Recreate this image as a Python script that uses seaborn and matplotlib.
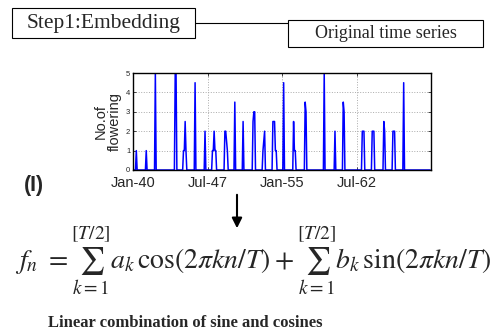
import numpy as np
import pandas as pd
import matplotlib
matplotlib.use("Agg")
import matplotlib.pyplot as plt
from matplotlib.patches import Rectangle
import seaborn as sns

# ---- data (monthly, Jan-1940 .. Dec-1969), months with flowering ----
n_months = 360
spike_months = [4, 16, 27, 51, 52, 61, 62, 63, 64, 75, 87, 96, 97, 98, 99, 100,
                111, 112, 113, 114, 123, 133, 145, 146, 147, 157, 158, 159,
                169, 170, 171, 172, 173, 182, 194, 195, 196, 208, 209, 231,
                244, 254, 255, 277, 278, 279, 289, 290, 291, 303, 304,
                314, 315, 316, 327]
spike_values = [1, 1, 5, 5, 5, 1, 1, 2.5, 1, 4.5, 2, 1, 1, 2, 1, 1,
                2, 2, 1.5, 1, 3.5, 2.5, 2.5, 3, 3, 1, 1.5, 2,
                2.5, 2.5, 2.5, 1, 1, 4.5, 2.5, 1, 1, 3.5, 3, 5,
                2, 3.5, 3, 2, 2, 2, 2, 2, 2, 2.5, 2,
                2, 2, 2, 4.5]
tick_months = [0, 90, 180, 270]
tick_labels = ["Jan-40", "Jul-47", "Jan-55", "Jul-62"]
y_ticks = [0, 1, 2, 3, 4, 5]

flowering = np.zeros(n_months)
flowering[spike_months] = spike_values
df = pd.DataFrame({"month": np.arange(n_months), "flowering": flowering})

sns.set_style("white")
plt.rcParams["font.family"] = ["Liberation Sans", "DejaVu Sans"]
plt.rcParams["mathtext.fontset"] = "stix"

W, H = 494, 336
fig = plt.figure(figsize=(W / 100, H / 100), dpi=100)

def fx(px):
    return px / W

def fy(py):
    return 1 - py / H

ax = fig.add_axes([fx(133), fy(170), fx(431) - fx(133), fy(73) - fy(170)])
sns.lineplot(data=df, x="month", y="flowering", ax=ax, color="#0000ff", lw=1.1)
ax.set_xlim(0, n_months)
ax.set_ylim(0, 5)
ax.set_xticks(tick_months)
ax.set_xticklabels(tick_labels, fontsize=10.5)
ax.set_yticks(y_ticks)
ax.tick_params(axis="y", labelsize=5.5, pad=2)
ax.tick_params(axis="x", pad=4)
ax.tick_params(direction="in", length=2.5, width=0.6, top=True, right=True, bottom=True, left=True)
ax.grid(True, linestyle=":", color="#aaaaaa", lw=0.7)
for s in ax.spines.values():
    s.set_color("black")
    s.set_linewidth(1.0)
ax.set_xlabel("")
ax.set_ylabel("No.of\nflowering", fontsize=10.5, labelpad=3, linespacing=1.0)

serif = ["Liberation Serif", "DejaVu Serif"]

# boxes and connector
fig.add_artist(Rectangle((fx(12), fy(38)), fx(195) - fx(12), fy(8) - fy(38),
                         transform=fig.transFigure, fill=False, ec="black", lw=0.8))
fig.text(fx(103.5), fy(23.5), "Step1:Embedding", family=serif, fontsize=15.5,
         ha="center", va="center")
fig.add_artist(plt.Line2D([fx(195), fx(288)], [fy(23), fy(23)],
                          transform=fig.transFigure, color="black", lw=0.8))
fig.add_artist(Rectangle((fx(288), fy(47)), fx(483) - fx(288), fy(20) - fy(47),
                         transform=fig.transFigure, fill=False, ec="black", lw=0.8))
fig.text(fx(385.5), fy(34), "Original time series", family=serif, fontsize=13,
         ha="center", va="center")

# label (I)
fig.text(fx(34), fy(185), "(I)", fontsize=15.5, fontweight="bold", ha="center", va="center")

# arrow
fig.add_artist(matplotlib.patches.FancyArrowPatch(
    (fx(237), fy(192)), (fx(237), fy(231)), transform=fig.transFigure,
    arrowstyle="-|>,head_length=0.5,head_width=0.25", mutation_scale=12,
    color="black", lw=1.5))

# formula
formula = (r"$f_n\ = \sum_{k=1}^{[T/2]} a_k\,\cos(2\pi kn/T) + "
           r"\sum_{k=1}^{[T/2]} b_k\,\sin(2\pi kn/T)$")
fig.text(fx(253), fy(261), formula, fontsize=20, ha="center", va="center")

# caption
fig.text(fx(48), fy(323), "Linear combination of sine and cosines", family=serif,
         fontsize=12, fontweight="bold", ha="left", va="center")

fig.savefig("out.png", dpi=100)
